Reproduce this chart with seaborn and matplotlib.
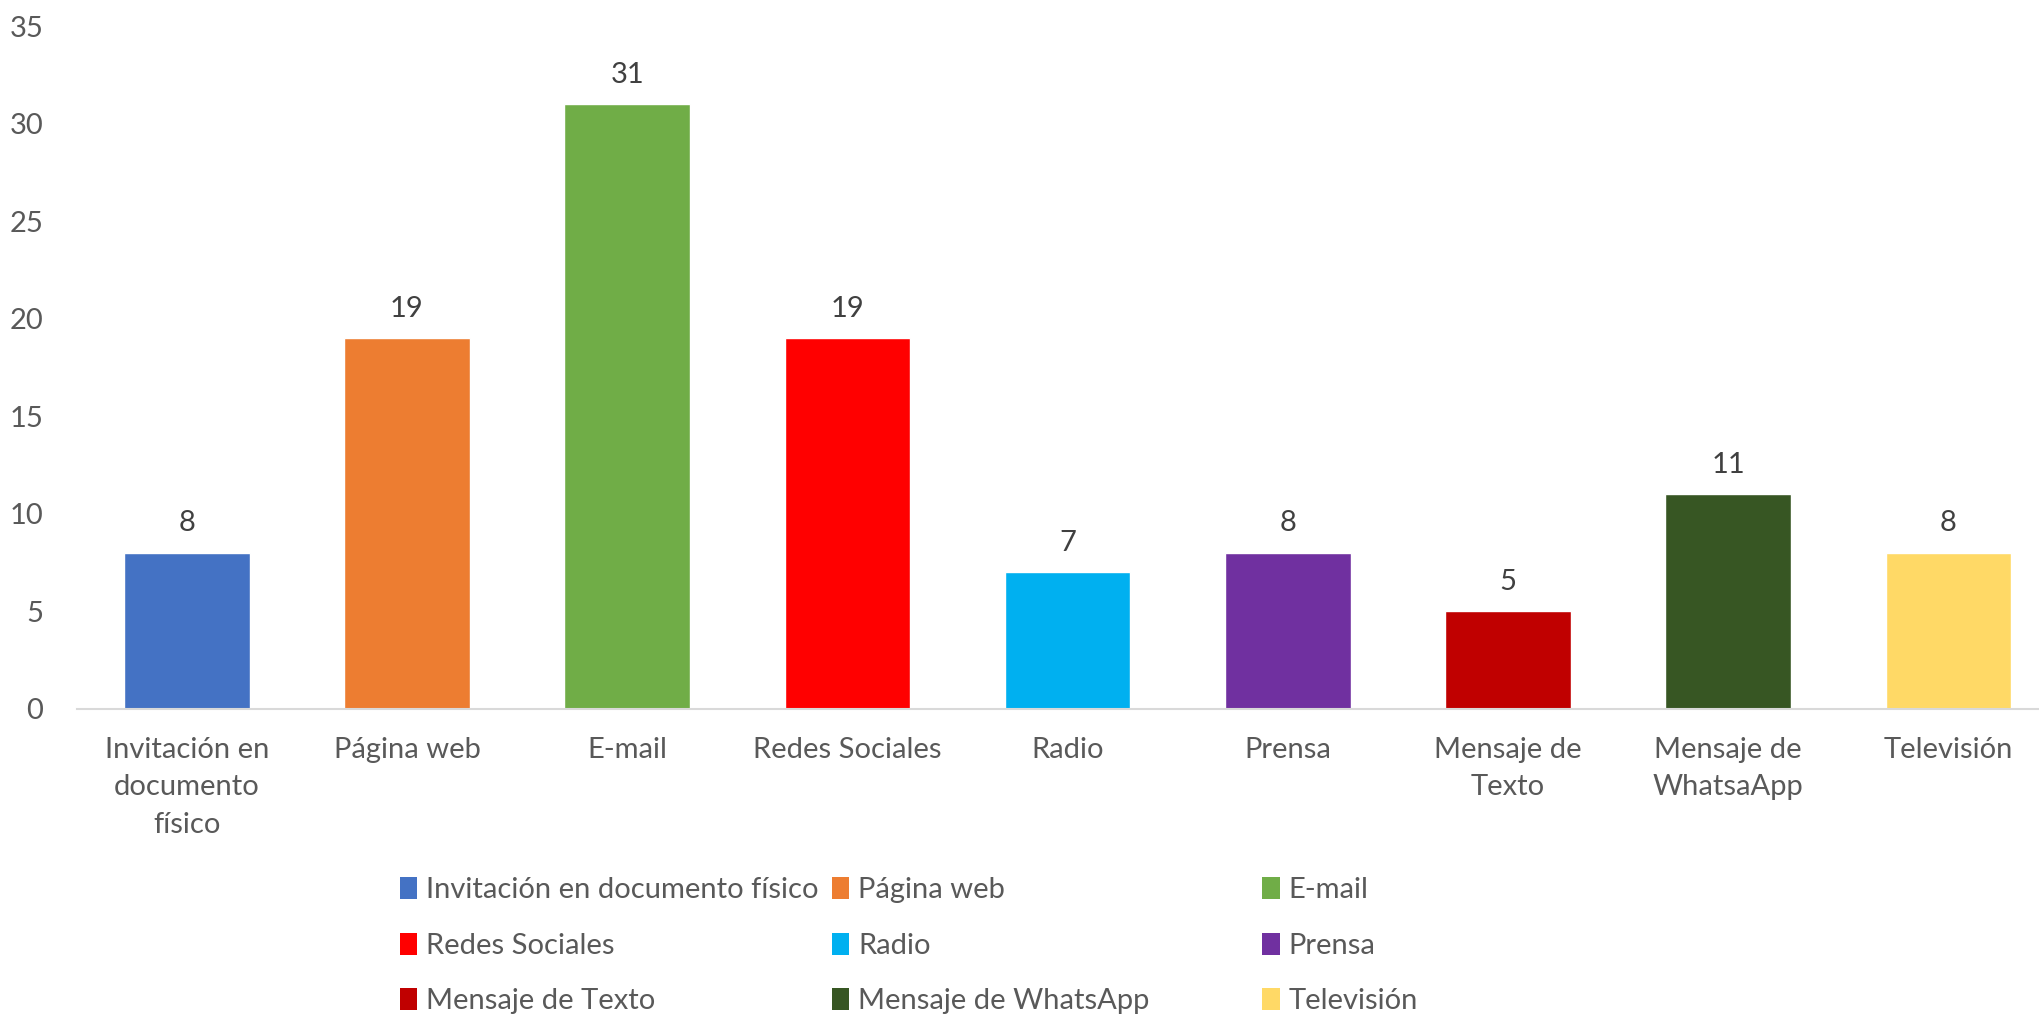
import numpy as np
import pandas as pd
import matplotlib
matplotlib.use("Agg")
import matplotlib.pyplot as plt
import seaborn as sns
from matplotlib.patches import Patch

# data
categories = ["Invitación en documento físico", "Página web", "E-mail", "Redes Sociales",
              "Radio", "Prensa", "Mensaje de Texto", "Mensaje de WhatsApp", "Televisión"]
tick_labels = ["Invitación en\ndocumento\nfísico", "Página web", "E-mail", "Redes Sociales",
               "Radio", "Prensa", "Mensaje de\nTexto", "Mensaje de\nWhatsaApp", "Televisión"]
values = [8, 19, 31, 19, 7, 8, 5, 11, 8]
colors = ["#4472C4", "#ED7D31", "#70AD47", "#FF0000", "#00B0F0",
          "#7030A0", "#C00000", "#375623", "#FFD966"]

sns.set_style("white")
plt.rcParams["font.family"] = ["Lato", "DejaVu Sans"]
text_color = "#595959"
fs = 21

df = pd.DataFrame({"canal": categories, "n": values})

fig = plt.figure(figsize=(20.39, 10.14), dpi=100)
ax = fig.add_axes([0.0376, 0.301, 0.972, 0.673])

sns.barplot(data=df, x="canal", y="n", hue="canal", palette=colors,
            width=0.57, saturation=1, legend=False, ax=ax)

ax.set_ylim(0, 35)
ax.set_yticks(np.arange(0, 36, 5))
ax.set_xticks(range(len(tick_labels)))
ax.set_xticklabels(tick_labels, fontsize=fs, color=text_color, linespacing=1.55)
ax.tick_params(axis="y", labelsize=fs, labelcolor=text_color, length=0, pad=24)
ax.tick_params(axis="x", length=0, pad=20)
ax.set_xlabel("")
ax.set_ylabel("")

for s in ["top", "right", "left"]:
    ax.spines[s].set_visible(False)
ax.spines["bottom"].set_color("#d9d9d9")
ax.spines["bottom"].set_linewidth(1.5)

for cont in ax.containers:
    ax.bar_label(cont, padding=12, fontsize=fs, color="#404040")

# legend: three columns placed like the original
handles = [Patch(facecolor=c, edgecolor="none") for c in colors]
col_x = [0.196, 0.408, 0.619]
for j, x in enumerate(col_x):
    idx = [j, j + 3, j + 6]
    leg = fig.legend([handles[i] for i in idx], [categories[i] for i in idx],
                     loc="upper left", bbox_to_anchor=(x, 0.135), frameon=False,
                     fontsize=fs, handlelength=0.6, handleheight=0.8,
                     handletextpad=0.3, labelspacing=1.0, borderpad=0,
                     borderaxespad=0)
    for t in leg.get_texts():
        t.set_color(text_color)

fig.savefig("out.png", dpi=100)
